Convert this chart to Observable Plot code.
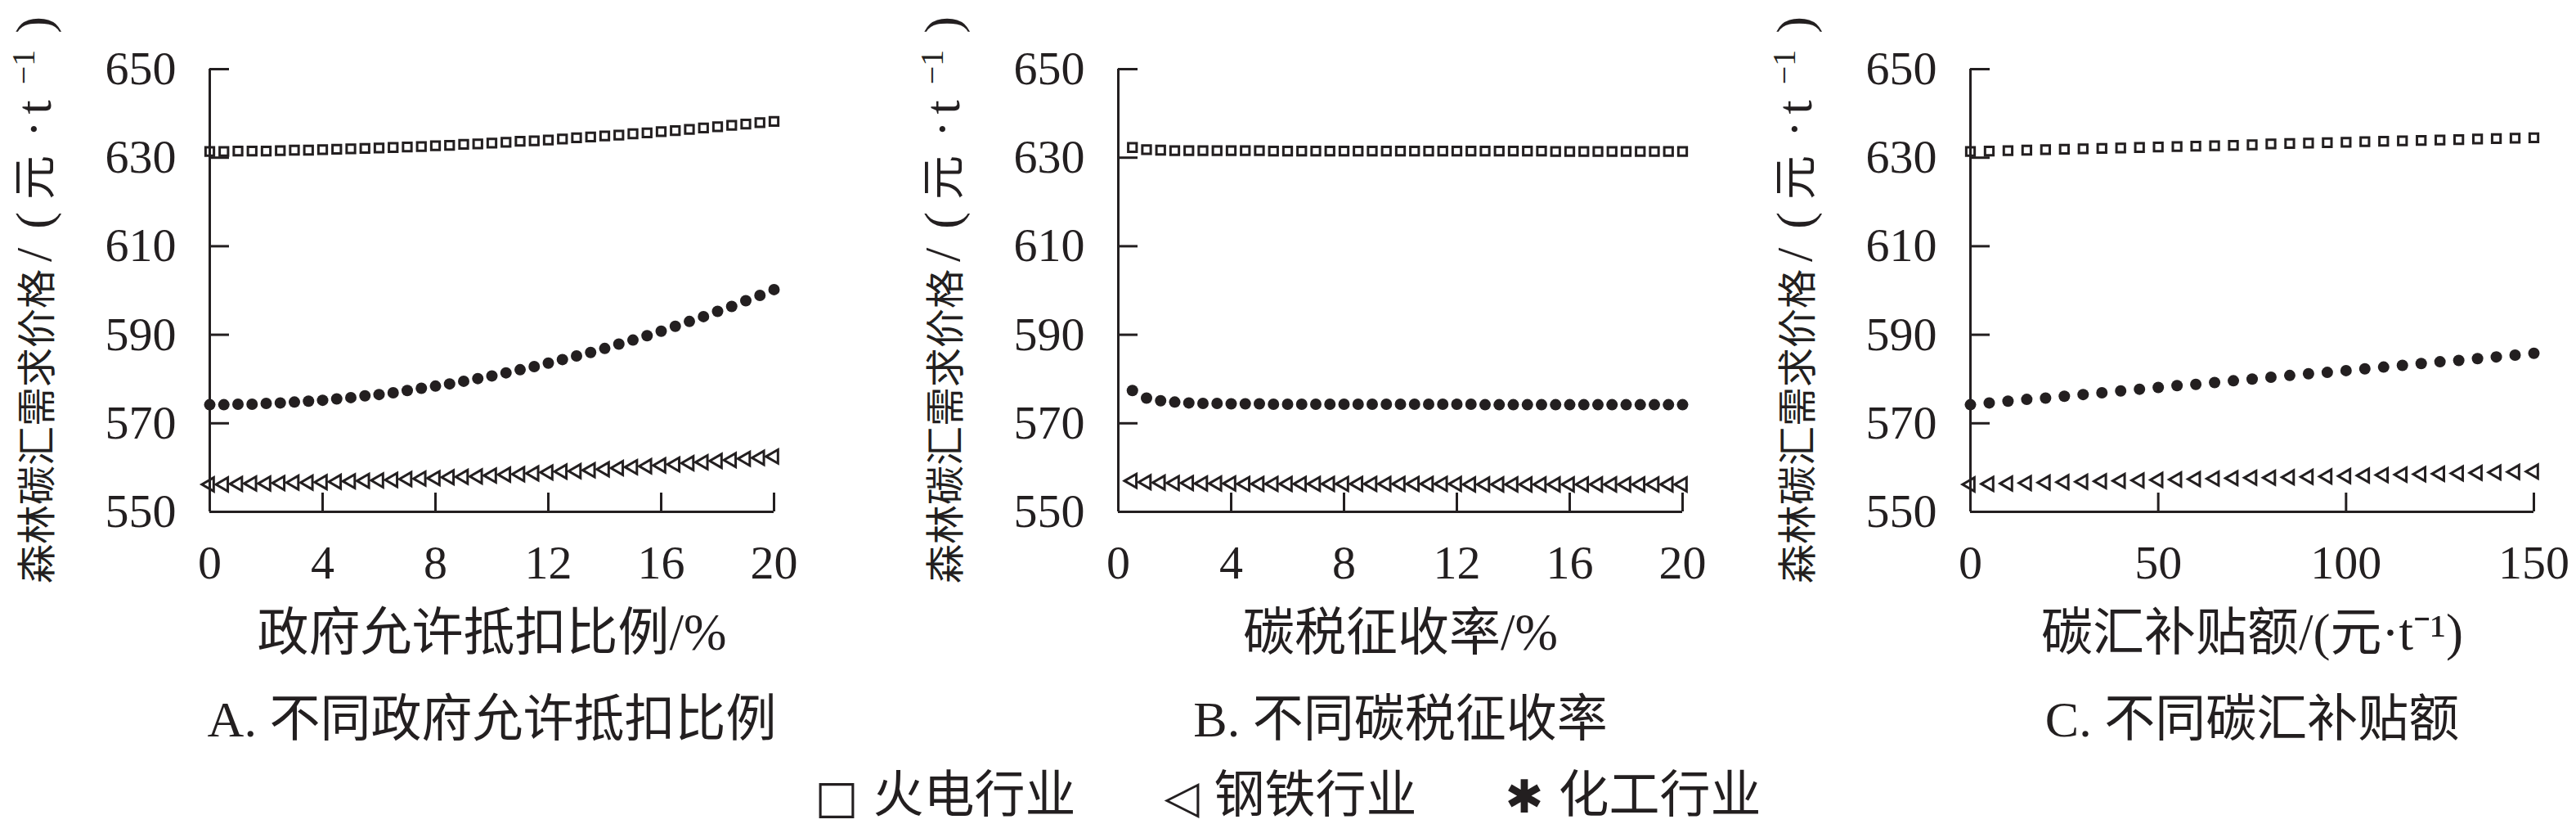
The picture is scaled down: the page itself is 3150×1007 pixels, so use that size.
<!DOCTYPE html>
<html>
<head>
<meta charset="utf-8">
<script src="https://cdn.jsdelivr.net/npm/d3@7"></script>
<script src="https://cdn.jsdelivr.net/npm/@observablehq/plot@0.6"></script>
<style>
  html, body { margin: 0; padding: 0; background: #fff; }
  #page { position: relative; width: 3150px; height: 1007px; overflow: hidden; background: #fff; }
  .panel { position: absolute; top: 0; }
  #legend { position: absolute; left: 0; top: 937px; width: 3150px; height: 70px; line-height: 70px; text-align: center; white-space: nowrap;
            font-family: "Liberation Serif", "Noto Sans CJK SC", serif; font-size: 62px; color: #231f20; }
  #legend .item { margin: 0 54px; }
  #legend .sym { font-family: "DejaVu Sans", sans-serif; font-size: 56px; margin-right: 18px; }
</style>
</head>
<body>
<div id="page"></div>
<script>
// ---------- data ----------
const yTicks = [550, 570, 590, 610, 630, 650];
const xTicksAB = [0, 4, 8, 12, 16, 20];
const xTicksC = [0, 50, 100, 150];
const seriesNames = ["火电行业", "钢铁行业", "化工行业"];

// Panel A: 政府允许抵扣比例 (%)
const xA = [0,0.5,1,1.5,2,2.5,3,3.5,4,4.5,5,5.5,6,6.5,7,7.5,8,8.5,9,9.5,10,10.5,11,11.5,12,12.5,13,13.5,14,14.5,15,15.5,16,16.5,17,17.5,18,18.5,19,19.5,20];
const thermalA = [631.4,631.4,631.5,631.5,631.5,631.6,631.7,631.7,631.8,631.9,632.0,632.1,632.2,632.3,632.4,632.5,632.7,632.8,633.0,633.1,633.3,633.5,633.7,633.8,634.0,634.2,634.5,634.7,634.9,635.1,635.4,635.6,635.9,636.1,636.4,636.7,637.0,637.3,637.6,637.9,638.2];
const steelA = [556.2,556.2,556.3,556.4,556.4,556.5,556.6,556.6,556.7,556.8,556.9,557.0,557.1,557.2,557.4,557.5,557.6,557.8,557.9,558.0,558.2,558.4,558.5,558.7,558.9,559.1,559.2,559.4,559.6,559.9,560.1,560.3,560.5,560.7,561.0,561.2,561.5,561.7,562.0,562.2,562.5];
const chemA = [574.2,574.2,574.3,574.3,574.5,574.6,574.8,575.0,575.2,575.5,575.8,576.2,576.5,576.9,577.4,577.9,578.4,578.9,579.5,580.1,580.7,581.4,582.1,582.8,583.6,584.4,585.2,586.0,586.9,587.9,588.8,589.8,590.8,591.9,593.0,594.1,595.3,596.4,597.7,598.9,600.2];

// Panel B: 碳税征收率 (%)
const xB = [0.5,1,1.5,2,2.5,3,3.5,4,4.5,5,5.5,6,6.5,7,7.5,8,8.5,9,9.5,10,10.5,11,11.5,12,12.5,13,13.5,14,14.5,15,15.5,16,16.5,17,17.5,18,18.5,19,19.5,20];
const thermalB = [632.3,631.8,631.7,631.6,631.6,631.6,631.6,631.6,631.6,631.6,631.5,631.5,631.5,631.5,631.5,631.5,631.5,631.5,631.5,631.5,631.5,631.5,631.5,631.5,631.5,631.5,631.5,631.5,631.5,631.5,631.4,631.4,631.4,631.4,631.4,631.4,631.4,631.4,631.4,631.4];
const steelB = [557.0,556.7,556.6,556.5,556.5,556.4,556.4,556.4,556.3,556.3,556.3,556.3,556.3,556.3,556.3,556.3,556.3,556.3,556.3,556.3,556.3,556.3,556.3,556.3,556.2,556.2,556.2,556.2,556.2,556.2,556.2,556.2,556.2,556.2,556.2,556.2,556.2,556.2,556.2,556.2];
const chemB = [577.4,575.7,575.1,574.8,574.6,574.5,574.5,574.4,574.4,574.4,574.3,574.3,574.3,574.3,574.3,574.3,574.3,574.3,574.3,574.3,574.3,574.3,574.3,574.3,574.3,574.2,574.2,574.2,574.2,574.2,574.2,574.2,574.2,574.2,574.2,574.2,574.2,574.2,574.2,574.2];

// Panel C: 碳汇补贴额 (元·t⁻¹)
const xC = [0,5,10,15,20,25,30,35,40,45,50,55,60,65,70,75,80,85,90,95,100,105,110,115,120,125,130,135,140,145,150];
const thermalC = [631.4,631.5,631.6,631.7,631.8,631.9,632.0,632.1,632.2,632.3,632.4,632.5,632.6,632.7,632.8,632.9,633.1,633.2,633.3,633.4,633.5,633.6,633.7,633.8,633.9,634.0,634.1,634.2,634.3,634.4,634.5];
const steelC = [556.2,556.3,556.4,556.5,556.6,556.7,556.8,556.9,557.0,557.1,557.2,557.3,557.4,557.5,557.6,557.7,557.7,557.8,557.9,558.0,558.1,558.2,558.3,558.4,558.5,558.6,558.7,558.8,558.9,559.0,559.1];
const chemC = [574.2,574.6,575.0,575.4,575.7,576.1,576.5,576.9,577.3,577.7,578.1,578.5,578.8,579.2,579.6,580.0,580.4,580.8,581.2,581.5,581.9,582.3,582.7,583.1,583.5,583.9,584.2,584.6,585.0,585.4,585.8];

const yTitle = "森林碳汇需求价格/(元·t⁻¹)";
const xTitles = ["政府允许抵扣比例/%", "碳税征收率/%", "碳汇补贴额/(元·t⁻¹)"];
const subTitles = ["A. 不同政府允许抵扣比例", "B. 不同碳税征收率", "C. 不同碳汇补贴额"];

// ---------- drawing ----------
const INK = "#231f20";
const FONT = "'Liberation Serif', 'Noto Sans CJK SC', serif";
const page = document.getElementById("page");

function rows(xs, ys) { return xs.map((x, i) => ({x, y: ys[i]})); }

// rich rendering of the rotated y title (superscript, mixed sizes)
const yTitleParts = [
  {t: "森林碳汇需求价格", fs: 48},
  {t: "/", fs: 62, dx: 9},
  {t: "(", fs: 62, dx: 23},
  {t: "元", fs: 54, dx: 15},
  {t: "·", fs: 62, dx: 22},
  {t: "t", fs: 62, dx: 8},
  {t: "−1", fs: 40, dx: 19, dy: -20},
  {t: ")", fs: 62, dx: 20, dy: 20}
];
function richTitle(svg) {
  svg.querySelectorAll("text").forEach(el => {
    if (el.textContent !== yTitle) return;
    el.textContent = "";
    yTitleParts.forEach(p => {
      const ts = document.createElementNS("http://www.w3.org/2000/svg", "tspan");
      ts.textContent = p.t;
      ts.setAttribute("font-size", p.fs);
      if (p.dx) ts.setAttribute("dx", p.dx);
      if (p.dy) ts.setAttribute("dy", p.dy);
      el.appendChild(ts);
    });
  });
}

function panel({left, xs, thermal, steel, chem, xDomain, xTicks, xTitle, subTitle, plotWidth}) {
  const marginLeft = 256, marginRight = 52, marginTop = 84, height = 935, marginBottom = height - 625;
  const chart = Plot.plot({
    width: marginLeft + plotWidth + marginRight,
    height, marginLeft, marginRight, marginTop, marginBottom,
    style: {fontFamily: FONT, fontSize: "58px", color: INK, background: "transparent", overflow: "visible"},
    x: {domain: xDomain},
    y: {domain: [550, 650]},
    marks: [
      Plot.ruleX([xDomain[0]], {stroke: INK, strokeWidth: 3}),
      Plot.ruleY([550], {stroke: INK, strokeWidth: 3}),
      Plot.axisY({ticks: yTicks, tickSize: -24, tickPadding: 65, strokeWidth: 3, label: null, fontSize: 58, fill: INK, stroke: INK}),
      Plot.axisX({ticks: xTicks, tickSize: -23, tickPadding: 63, strokeWidth: 3, label: null, fontSize: 58, fill: INK, stroke: INK}),
      Plot.dot(rows(xs, thermal), {x: "x", y: "y", symbol: "square", r: 5.8, fill: "none", stroke: INK, strokeWidth: 3}),
      Plot.dot(rows(xs, steel), {x: "x", y: "y", symbol: "triangle", rotate: -90, r: 6.2, fill: "none", stroke: INK, strokeWidth: 3}),
      Plot.dot(rows(xs, chem), {x: "x", y: "y", symbol: "circle", r: 7, fill: INK, stroke: "none"}),
      Plot.text([yTitle], {text: d => d, frameAnchor: "left", rotate: -90, textAnchor: "start", dx: -210, dy: 358, fontSize: 48, fill: INK}),
      Plot.text([xTitle], {text: d => d, frameAnchor: "bottom", dy: 168, fontSize: 63, fill: INK}),
      Plot.text([subTitle], {text: d => d, frameAnchor: "bottom", dy: 274, fontSize: 62, fill: INK})
    ]
  });
  richTitle(chart);
  const div = document.createElement("div");
  div.className = "panel";
  div.style.left = left + "px";
  div.style.width = (marginLeft + plotWidth + marginRight) + "px";
  div.appendChild(chart);
  page.appendChild(div);
}

panel({left: 0, xs: xA, thermal: thermalA, steel: steelA, chem: chemA, xDomain: [0, 20], xTicks: xTicksAB, xTitle: xTitles[0], subTitle: subTitles[0], plotWidth: 690});
panel({left: 1111, xs: xB, thermal: thermalB, steel: steelB, chem: chemB, xDomain: [0, 20], xTicks: xTicksAB, xTitle: xTitles[1], subTitle: subTitles[1], plotWidth: 690});
panel({left: 2153, xs: xC, thermal: thermalC, steel: steelC, chem: chemC, xDomain: [0, 150], xTicks: xTicksC, xTitle: xTitles[2], subTitle: subTitles[2], plotWidth: 689});

// legend
const legend = document.createElement("div");
legend.id = "legend";
const syms = ["□", "◁", "✱"];
seriesNames.forEach((name, i) => {
  const item = document.createElement("span");
  item.className = "item";
  const s = document.createElement("span");
  s.className = "sym";
  s.textContent = syms[i];
  const t = document.createElement("span");
  t.textContent = name;
  item.appendChild(s);
  item.appendChild(t);
  legend.appendChild(item);
});
page.appendChild(legend);
</script>
</body>
</html>
